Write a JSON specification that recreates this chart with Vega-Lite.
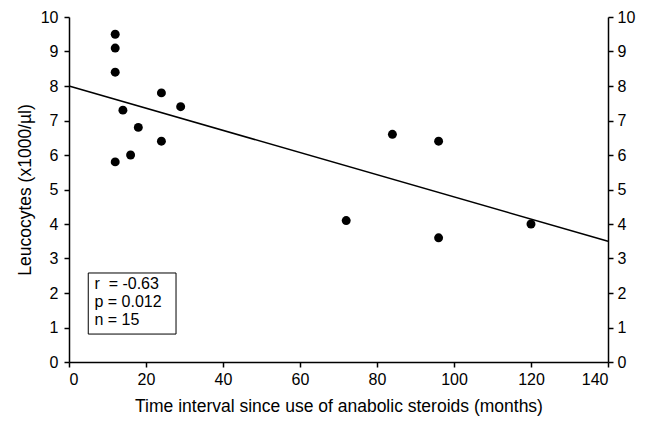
{
  "$schema": "https://vega.github.io/schema/vega-lite/v6.json",
  "width": 539,
  "height": 345,
  "autosize": {"type": "none"},
  "padding": {"left": 69, "top": 17, "right": 37, "bottom": 59},
  "background": "white",
  "config": {
    "view": {"stroke": null},
    "font": "Liberation Sans",
    "axis": {
      "domainColor": "black",
      "domainWidth": 1.5,
      "tickColor": "black",
      "tickWidth": 1.5,
      "tickSize": 5,
      "labelColor": "black",
      "labelFontSize": 16,
      "labelFont": "Liberation Sans",
      "labelOverlap": false,
      "titleFont": "Liberation Sans",
      "titleFontSize": 17.5,
      "titleFontWeight": "normal",
      "titleColor": "black",
      "grid": false
    }
  },
  "data": {
    "values": [
      {"months": 12, "leuco": 9.5},
      {"months": 12, "leuco": 9.1},
      {"months": 12, "leuco": 8.4},
      {"months": 14, "leuco": 7.3},
      {"months": 24, "leuco": 7.8},
      {"months": 29, "leuco": 7.4},
      {"months": 18, "leuco": 6.8},
      {"months": 24, "leuco": 6.4},
      {"months": 16, "leuco": 6.0},
      {"months": 12, "leuco": 5.8},
      {"months": 72, "leuco": 4.1},
      {"months": 84, "leuco": 6.6},
      {"months": 96, "leuco": 6.4},
      {"months": 96, "leuco": 3.6},
      {"months": 120, "leuco": 4.0}
    ]
  },
  "layer": [
    {
      "data": {"values": [{"label": "fit"}]},
      "mark": {"type": "rule", "color": "black", "strokeWidth": 1.5},
      "encoding": {
        "x": {"datum": 0, "type": "quantitative", "scale": {"domain": [0, 140]},
              "axis": {"title": "Time interval since use of anabolic steroids (months)", "values": [0,20,40,60,80,100,120,140], "labelPadding": 4, "titlePadding": 10}},
        "y": {"datum": 8.0, "type": "quantitative", "scale": {"domain": [0, 10]},
              "axis": {"orient": "right", "title": null, "values": [0,1,2,3,4,5,6,7,8,9,10], "labelPadding": 4}},
        "x2": {"datum": 140},
        "y2": {"datum": 3.5}
      }
    },
    {
      "mark": {"type": "point", "filled": true, "color": "black", "size": 80, "opacity": 1},
      "encoding": {
        "x": {"field": "months", "type": "quantitative", "scale": {"domain": [0, 140]},
              "axis": {"title": "Time interval since use of anabolic steroids (months)", "values": [0,20,40,60,80,100,120,140], "labelPadding": 4, "titlePadding": 10}},
        "y": {"field": "leuco", "type": "quantitative", "scale": {"domain": [0, 10]},
              "axis": {"title": "Leucocytes (x1000/µl)", "values": [0,1,2,3,4,5,6,7,8,9,10], "labelPadding": 6, "titlePadding": 6}}
      }
    },
    {
      "data": {"values": [{"label": "box"}]},
      "mark": {"type": "rect", "fill": "white", "stroke": "black", "strokeWidth": 1},
      "encoding": {
        "x": {"datum": 5, "type": "quantitative"},
        "x2": {"datum": 27.8},
        "y": {"datum": 2.58, "type": "quantitative", "axis": null},
        "y2": {"datum": 0.81}
      }
    },
    {
      "data": {"values": [{"label": "stats"}]},
      "mark": {"type": "text", "align": "left", "baseline": "top", "fontSize": 16, "fontWeight": "normal", "lineHeight": 18.3, "fill": "black", "font": "Liberation Sans"},
      "encoding": {
        "x": {"datum": 6.6, "type": "quantitative"},
        "y": {"datum": 2.5, "type": "quantitative", "axis": null},
        "text": {"value": ["r \u00a0= -0.63", "p = 0.012", "n = 15"]}
      }
    }
  ],
  "resolve": {"axis": {"y": "independent"}}
}
